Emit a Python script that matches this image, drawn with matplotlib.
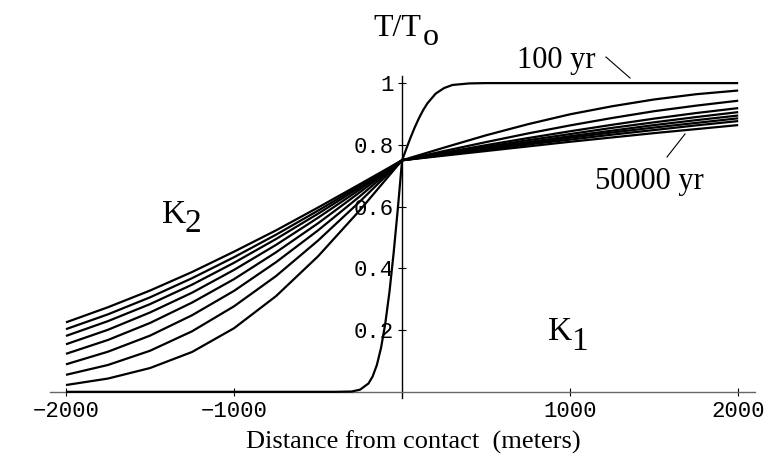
import matplotlib
matplotlib.use("Agg")
import matplotlib.pyplot as plt
from matplotlib.lines import Line2D

# ---------------- data ----------------
x_grid = [-2000, -1750, -1500, -1250, -1000, -750, -500, -250, 0,
          250, 500, 750, 1000, 1250, 1500, 1750, 2000]

curve_1 = [0.022, 0.043, 0.077, 0.129, 0.206, 0.310, 0.439, 0.589, 0.75,
           0.791, 0.831, 0.867, 0.899, 0.925, 0.947, 0.964, 0.976]
curve_2 = [0.055, 0.087, 0.133, 0.196, 0.277, 0.375, 0.490, 0.617, 0.75,
           0.780, 0.809, 0.837, 0.863, 0.887, 0.909, 0.927, 0.943]
curve_3 = [0.089, 0.130, 0.182, 0.248, 0.327, 0.420, 0.523, 0.634, 0.75,
           0.775, 0.799, 0.822, 0.844, 0.865, 0.885, 0.903, 0.919]
curve_4 = [0.123, 0.168, 0.223, 0.289, 0.365, 0.452, 0.546, 0.647, 0.75,
           0.772, 0.794, 0.815, 0.835, 0.855, 0.873, 0.890, 0.906]
curve_5 = [0.154, 0.201, 0.257, 0.321, 0.395, 0.476, 0.564, 0.656, 0.75,
           0.770, 0.790, 0.809, 0.828, 0.846, 0.864, 0.880, 0.895]
curve_6 = [0.181, 0.229, 0.284, 0.347, 0.418, 0.495, 0.577, 0.663, 0.75,
           0.769, 0.787, 0.805, 0.823, 0.840, 0.856, 0.871, 0.886]
curve_7 = [0.203, 0.251, 0.306, 0.368, 0.436, 0.509, 0.587, 0.668, 0.75,
           0.767, 0.784, 0.801, 0.817, 0.833, 0.848, 0.863, 0.877]
curve_50000 = [0.225, 0.274, 0.328, 0.388, 0.454, 0.523, 0.597, 0.673, 0.75,
               0.765, 0.780, 0.795, 0.810, 0.824, 0.838, 0.851, 0.864]

x_100 = [-2000, -400, -300, -250, -200, -175, -150, -125, -100, -75, -50, -25, 0,
         25, 50, 75, 100, 125, 150, 200, 250, 300, 400, 500, 2000]
curve_100 = [0.0, 0.0, 0.001, 0.007, 0.027, 0.050, 0.087, 0.143, 0.221, 0.324,
             0.451, 0.595, 0.75, 0.787, 0.823, 0.856, 0.886, 0.912, 0.934,
             0.966, 0.984, 0.994, 0.999, 1.0, 1.0]

x_ticks = [-2000, -1000, 1000, 2000]
x_tick_labels = ["\u22122000", "\u22121000", "1000", "2000"]
y_ticks = [0.2, 0.4, 0.6, 0.8, 1.0]
y_tick_labels = ["0.2", "0.4", "0.6", "0.8", "1"]

# ---------------- figure ----------------
W, H = 779, 465
fig = plt.figure(figsize=(W / 100, H / 100), dpi=100)
fig.patch.set_facecolor("white")
ax = fig.add_axes([50 / W, 67 / H, 705 / W, 322 / H])
ax.set_xlim(-2095, 2100)
ax.set_ylim(-0.02, 1.023)
ax.set_axisbelow(True)

lw = 1.6
for c in [curve_1, curve_2, curve_3, curve_4, curve_5, curve_6, curve_7, curve_50000]:
    ax.plot(x_grid, c, color="black", lw=lw, solid_joinstyle="round",
            solid_capstyle="butt", zorder=3)
ax.plot(x_100, curve_100, color="black", lw=lw, solid_joinstyle="round",
        solid_capstyle="butt", zorder=3)

for s in ["top", "right"]:
    ax.spines[s].set_visible(False)
ax.spines["left"].set_position(("data", 0))
ax.spines["bottom"].set_position(("data", 0))
ax.spines["left"].set_color("black")
ax.spines["left"].set_linewidth(1.0)
ax.spines["bottom"].set_color("0.4")
ax.spines["bottom"].set_linewidth(1.0)

ax.set_xticks(x_ticks)
ax.set_xticklabels(x_tick_labels)
ax.set_yticks(y_ticks)
ax.set_yticklabels(y_tick_labels)
ax.tick_params(axis="both", direction="inout", length=5.8, width=0.8,
               color="black")
ax.tick_params(axis="x", pad=4.0)
ax.tick_params(axis="y", pad=3.2)
mono = ["Liberation Mono", "DejaVu Sans Mono"]
for lab in ax.get_xticklabels() + ax.get_yticklabels():
    lab.set_family(mono)
    lab.set_fontsize(16)

serif = ["Liberation Serif", "DejaVu Serif"]


def ftext(px, py, s, size, **kw):
    fig.text(px / W, 1 - py / H, s, fontsize=size, family=serif,
             va="baseline", ha="left", **kw)


def fline(p0, p1):
    fig.add_artist(Line2D([p0[0] / W, p1[0] / W], [1 - p0[1] / H, 1 - p1[1] / H],
                          transform=fig.transFigure, color="black", lw=0.8))


# axis title T/T_o
ftext(373, 36, "T/T", 23)
ftext(423, 45, "o", 23)
# region labels
ftext(162, 223, "K", 24)
ftext(185, 232, "2", 24)
ftext(548, 340, "K", 24)
ftext(571, 350, "1", 24)
# curve labels
ftext(517, 68, "100 yr", 22)
fline((606, 57), (630, 78))
ftext(595, 189, "50000 yr", 22)
fline((667, 157), (685, 134))

# x axis label
fig.text(413 / W, 1 - 449 / H, "Distance from contact  (meters)", fontsize=19,
         family=serif, ha="center", va="baseline")

fig.savefig("out.png", dpi=100)
